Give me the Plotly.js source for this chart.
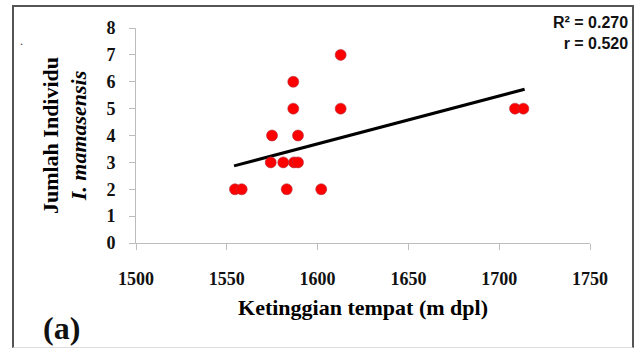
<!DOCTYPE html>
<html>
<head>
<meta charset="utf-8">
<script src="https://cdn.plot.ly/plotly-3.0.1.min.js"></script>
<style>
  html, body { margin: 0; padding: 0; background: #fff; }
  #wrap { position: relative; width: 639px; height: 348px; }
  #chart { width: 639px; height: 348px; }
  #frame { position: absolute; left: 12px; top: 5px; width: 618px; height: 340px;
           border-left: 2px solid #555; border-top: 2px solid #555; border-right: 2px solid #555;
           border-bottom: 1px solid #ddd; pointer-events: none; }
</style>
</head>
<body>
<div id="wrap">
  <div id="chart"></div>
  <div id="frame"></div>
</div>
<script>
// Data
const altitude = [1554.5, 1558.2, 1574.2, 1574.9, 1581.1, 1583.0, 1586.6, 1586.6, 1587.0, 1589.2, 1589.2, 1602.0, 1612.7, 1612.7, 1708.7, 1713.3];
const individuals = [2, 2, 3, 4, 3, 2, 6, 5, 3, 3, 4, 2, 7, 5, 5, 5];
const trendX = [1554, 1714];
const trendY = [2.87, 5.72];
const xTicks = [1500, 1550, 1600, 1650, 1700, 1750];
const yTicks = [0, 1, 2, 3, 4, 5, 6, 7, 8];
const statsText = ['R\u00b2 = 0.270', 'r = 0.520'];

const serif = '"Liberation Serif", "Times New Roman", serif';
const sans = '"Liberation Sans", Arial, sans-serif';

const traces = [
  {
    x: trendX, y: trendY, type: 'scatter', mode: 'lines',
    line: { color: '#000', width: 3 }, hoverinfo: 'skip', showlegend: false
  },
  {
    x: altitude, y: individuals, type: 'scatter', mode: 'markers',
    marker: { color: '#ff0000', size: 11, line: { color: '#b03040', width: 0.6 } },
    showlegend: false
  }
];

const layout = {
  width: 639, height: 348,
  margin: { l: 136, r: 49, t: 28, b: 105 },
  paper_bgcolor: '#fff', plot_bgcolor: '#fff',
  showlegend: false,
  xaxis: {
    range: [1500, 1750], tickmode: 'array', tickvals: xTicks,
    showgrid: false, zeroline: false, showline: true, linecolor: '#bdbdbd', linewidth: 1,
    ticks: 'outside', ticklen: 6, tickcolor: '#bdbdbd', ticklabelstandoff: 13,
    tickfont: { family: serif, size: 18, color: '#111', weight: 'bold' },
    title: { text: 'Ketinggian tempat (m dpl)', standoff: 12,
             font: { family: serif, size: 22, color: '#000', weight: 'bold' } }
  },
  yaxis: {
    range: [0, 8], tickmode: 'array', tickvals: yTicks,
    showgrid: false, zeroline: false, showline: true, linecolor: '#bdbdbd', linewidth: 1,
    ticks: 'outside', ticklen: 6, tickcolor: '#bdbdbd', ticklabelstandoff: 10,
    tickfont: { family: serif, size: 18, color: '#111', weight: 'bold' },
    title: { text: 'Jumlah Individu<br><i>I. mamasensis</i>', standoff: 13,
             font: { family: serif, size: 22, color: '#000', weight: 'bold' } }
  },
  annotations: [
    { xref: 'paper', yref: 'paper', x: 1.088, y: 1.075, xanchor: 'right', yanchor: 'top',
      text: '<b>' + statsText[0] + '<br>' + statsText[1] + '</b>', align: 'right', showarrow: false,
      font: { family: sans, size: 16, color: '#111' } },
    { xref: 'paper', yref: 'paper', x: -0.21, y: -0.395, xanchor: 'left', yanchor: 'middle',
      text: '<b>(a)</b>', showarrow: false,
      font: { family: serif, size: 32, color: '#111' } },
    { xref: 'paper', yref: 'paper', x: -0.26, y: 0.94, xanchor: 'left', yanchor: 'middle',
      text: '.', showarrow: false, font: { family: serif, size: 12, color: '#333' } }
  ]
};

Plotly.newPlot('chart', traces, layout, { displayModeBar: false, staticPlot: true });
</script>
</body>
</html>
